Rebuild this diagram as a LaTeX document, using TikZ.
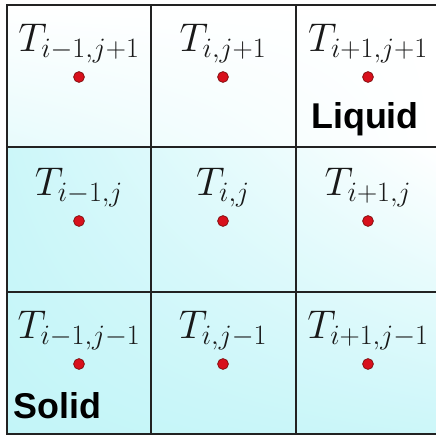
\documentclass[tikz,border=0pt]{standalone}
\usepackage{fix-cm}
\usepackage{fontspec}
\usetikzlibrary{positioning,calc,shadings}
\newfontfamily\rotulo{Liberation Sans}
\definecolor{cianhielo}{HTML}{C3F5F8}
\definecolor{rojonodo}{HTML}{D8101C}
\definecolor{rojoborde}{HTML}{7A0A0A}
\definecolor{rejilla}{HTML}{222222}
\tikzset{
  punto/.style={circle, fill=rojonodo, draw=rojoborde, line width=0.5pt,
    inner sep=0pt, minimum size=0.27cm},
  temp/.style={inner sep=0pt, text=black!90, font=\fontsize{28.5}{34}\selectfont},
  fase/.style={inner sep=0pt, font=\rotulo\bfseries\fontsize{25.5}{30}\selectfont},
  linea/.style={rejilla, line width=1.4pt},
}

\begin{document}
\begin{tikzpicture}
    \useasboundingbox (0,0) rectangle (10.9,10.9);
    % Fondo
    \fill[white] (0,0) rectangle (10.9,10.9);
    \shade[upper left=white, upper right=white, lower left=cianhielo!40, lower right=white]
      (0.175,7.225) rectangle (10.9,10.775);
    \shade[upper left=cianhielo!85, upper right=white, lower left=cianhielo, lower right=cianhielo!85]
      (0.175,0.05) rectangle (10.9,7.225);
    % Rejilla
    \foreach \x in {3.775,7.4}
      \draw[linea] (\x,0.05) -- (\x,10.775);
    \foreach \y in {7.225,3.6}
      \draw[linea] (0.175,\y) -- (10.9,\y);
    \draw[linea] (10.9,10.775) -- (0.175,10.775) -- (0.175,0.05) -- (10.9,0.05);
    % Nodos y temperaturas
    \foreach \col/\x/\ci in {a/1.975/i-1, b/5.575/i, c/9.2/i+1}{
      \foreach \fila/\y/\rj in {s/8.975/j+1, m/5.375/j, n/1.8/j-1}{
        \node[punto] (p\col\fila) at (\x,\y) {};
        \node[temp, above=0.5cm of p\col\fila, anchor=base] (t\col\fila) {$T_{\ci,\rj}$};
      }
    }
    % Fases
    \node[fase, anchor=base] (liq) at (9.125,7.7) {Liquid};
    \node[fase, anchor=base west] (sol) at (0.325,0.45) {Solid};
  \end{tikzpicture}
\end{document}
